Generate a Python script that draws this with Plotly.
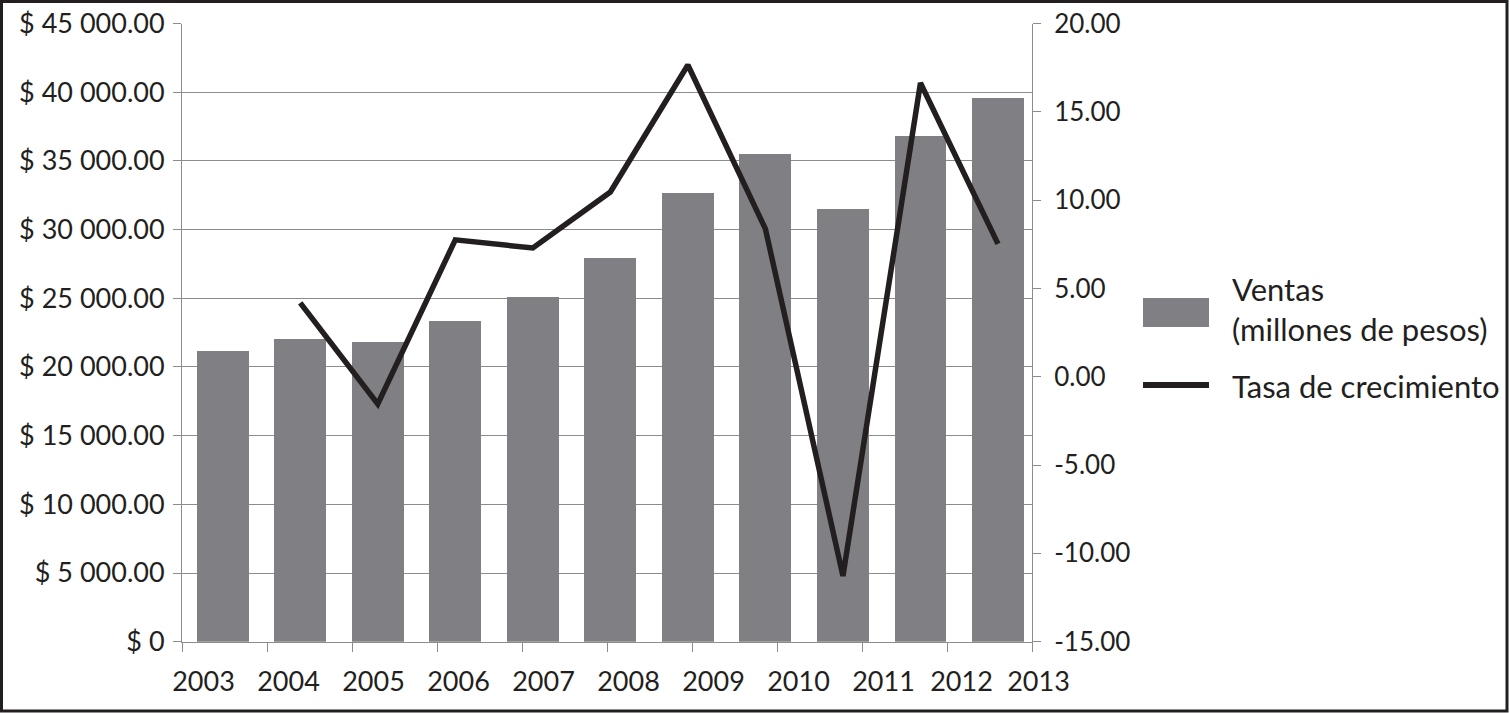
import plotly.graph_objects as go

# ---- data ----
years = [2003, 2004, 2005, 2006, 2007, 2008, 2009, 2010, 2011, 2012, 2013]
ventas = [21165, 22085, 21888, 23417, 25164, 27981, 32734, 35573, 31569, 36812, 39641]
growth_years = [2004, 2005, 2006, 2007, 2008, 2009, 2010, 2011, 2012, 2013]
growth = [4.18, -1.54, 7.75, 7.29, 10.46, 17.65, 8.37, -11.28, 16.63, 7.52]
left_ticks = [0, 5000, 10000, 15000, 20000, 25000, 30000, 35000, 40000, 45000]
right_ticks = [-15, -10, -5, 0, 5, 10, 15, 20]
x_tick_labels = [str(y) for y in years]
legend_bar = "Ventas<br>(millones de pesos)"
legend_line = "Tasa de crecimiento"

# ---- styling / layout geometry ----
W, H = 1510, 713
FONT = "Lato"
TXT = "#231f20"
GRID = "#8c8c8c"
BAR = "#808084"

px_left, px_right = 182, 1032
px_top, px_bottom = 23.5, 641.7
dom_x = [px_left / W, px_right / W]
dom_y = [(H - px_bottom) / H, (H - px_top) / H]

def money(v):
    if v == 0:
        return "$ 0"
    return "$ " + f"{v:,.2f}".replace(",", " ")

# label axis (slightly offset from tick marks, as in the original)
n = len(years)
tick_px = (px_right - px_left) / (n - 1)
label_shift_px = [21.5] * 9 + [14.5, 6.5]
lab_right_px = 1100
lab_vals = [i + s / tick_px for i, s in enumerate(label_shift_px)]

fig = go.Figure()
fig.add_trace(go.Bar(x=years, y=ventas, marker=dict(color=BAR, line=dict(width=0)),
                     width=0.67, xaxis="x", yaxis="y", showlegend=False, hoverinfo="x+y"))
fig.add_trace(go.Scatter(x=growth_years, y=growth, mode="lines",
                         line=dict(color=TXT, width=5.5), xaxis="x", yaxis="y2",
                         showlegend=False))
# helper invisible traces so the tick axes are built
fig.add_trace(go.Scatter(x=[0, n - 1], y=[0, 0], mode="markers", marker=dict(opacity=0),
                         xaxis="x2", yaxis="y", showlegend=False, hoverinfo="skip"))
fig.add_trace(go.Scatter(x=[0, n - 1], y=[0, 0], mode="markers", marker=dict(opacity=0),
                         xaxis="x3", yaxis="y3", showlegend=False, hoverinfo="skip"))

bar_spacing = 77.53
first_center = 222.7
fig.update_layout(
    template="none",
    width=W, height=H, autosize=False,
    margin=dict(l=0, r=0, t=0, b=0, pad=0),
    paper_bgcolor="white", plot_bgcolor="rgba(0,0,0,0)",
    font=dict(family=FONT, color=TXT, size=26),
    bargap=0,
    xaxis=dict(domain=dom_x, anchor="y", automargin=False,
               range=[years[0] + (px_left - first_center) / bar_spacing,
                      years[0] + (px_right - first_center) / bar_spacing],
               showgrid=False, zeroline=False, showline=False, ticks="",
               showticklabels=False),
    xaxis2=dict(domain=dom_x, anchor="y", overlaying="x", range=[0, n - 1], automargin=False,
                tickvals=list(range(n)), ticks="outside", ticklen=9, tickcolor=GRID,
                tickwidth=1, showticklabels=False, showgrid=False, zeroline=False,
                showline=True, linecolor=GRID, linewidth=1),
    xaxis3=dict(domain=[px_left / W, lab_right_px / W], anchor="y3",
                automargin=False,
                range=[0, (lab_right_px - px_left) / tick_px],
                tickvals=lab_vals, ticktext=x_tick_labels, ticks="",
                showgrid=False, zeroline=False, showline=False,
                tickfont=dict(size=27, family=FONT, color=TXT), ticklabelstandoff=21),
    yaxis3=dict(domain=dom_y, anchor="x3", range=[0, 1], visible=False, automargin=False,
                showgrid=False, zeroline=False),
    yaxis=dict(domain=dom_y, anchor="x", range=[0, 45000], automargin=False,
               tickvals=left_ticks, ticktext=[money(v) for v in left_ticks],
               showgrid=True, gridcolor=GRID, gridwidth=1, zeroline=False,
               showline=True, linecolor=GRID, linewidth=1,
               ticks="outside", ticklen=8, tickcolor=GRID,
               tickfont=dict(size=27, family=FONT, color=TXT), ticklabelstandoff=3),
    yaxis2=dict(domain=dom_y, anchor="x", overlaying="y", side="right", range=[-15, 20],
                automargin=False,
                tickvals=right_ticks, ticktext=[f"{v:.2f}" for v in right_ticks],
                showgrid=False, zeroline=False, showline=True, linecolor=GRID, linewidth=1,
                ticks="outside", ticklen=8, tickcolor=GRID,
                tickfont=dict(size=26, family=FONT, color=TXT), ticklabelstandoff=8),
)

# outer frame
fig.add_shape(type="rect", xref="paper", yref="paper",
              x0=1.5 / W, x1=1507 / W, y0=1 - 711 / H, y1=1 - 1.5 / H,
              line=dict(color=TXT, width=3), fillcolor="rgba(0,0,0,0)", layer="above")

# custom legend
fig.add_shape(type="rect", xref="paper", yref="paper",
              x0=1143 / W, x1=1209 / W, y0=1 - 327 / H, y1=1 - 298 / H,
              line=dict(width=0), fillcolor=BAR)
fig.add_shape(type="line", xref="paper", yref="paper",
              x0=1143 / W, x1=1209 / W, y0=1 - 385 / H, y1=1 - 385 / H,
              line=dict(color=TXT, width=6))
fig.add_annotation(xref="paper", yref="paper", x=1230 / W, y=1 - 309 / H,
                   xanchor="left", yanchor="middle", align="left", showarrow=False,
                   text=legend_bar, font=dict(size=31, family=FONT, color=TXT))
fig.add_annotation(xref="paper", yref="paper", x=1230 / W, y=1 - 386 / H,
                   xanchor="left", yanchor="middle", align="left", showarrow=False,
                   text=legend_line, font=dict(size=31, family=FONT, color=TXT))

fig.write_html("out.html",
               config={"displayModeBar": False},
               post_script="document.body.style.margin='0px';"
                           "document.body.style.overflow='hidden';")
